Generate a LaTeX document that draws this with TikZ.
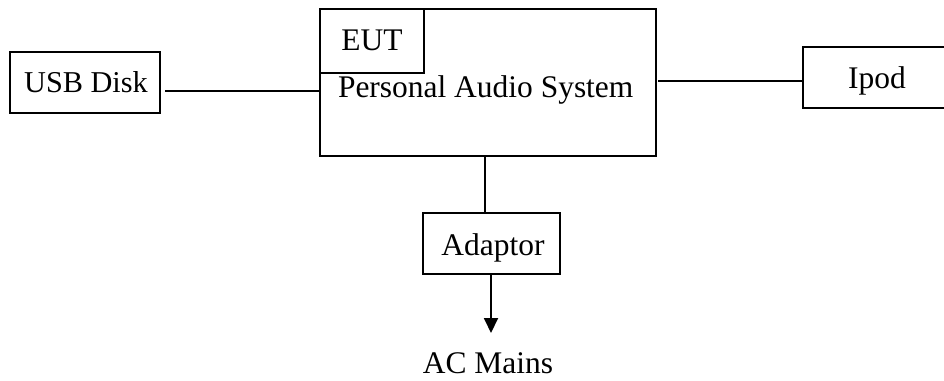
\documentclass[tikz,border=0pt]{standalone}
\usepackage{fontspec}
\setmainfont{Liberation Serif}
\usetikzlibrary{arrows.meta}
\begin{document}
\begin{tikzpicture}[x=0.75pt,y=-0.75pt,
  box/.style={draw,line width=1.4pt,inner sep=0pt,outer sep=0pt,rectangle},
  lbl/.style={inner sep=0pt,outer sep=0pt,font=\fontsize{23.6pt}{28pt}\selectfont},
  conn/.style={line width=1.4pt}]
\useasboundingbox (0,0) rectangle (944,380);
\clip (0,0) rectangle (944,380);
\fill[white] (0,0) rectangle (944,380);
% boxes
\node[box,minimum width=150*0.75pt,minimum height=61*0.75pt,anchor=north west] (usb) at (10,52) {};
\node[box,minimum width=336*0.75pt,minimum height=147*0.75pt,anchor=north west] (pas) at (320,9) {};
\node[box,minimum width=104*0.75pt,minimum height=64*0.75pt,anchor=north west] (eut) at (320,9) {};
\node[box,minimum width=160*0.75pt,minimum height=61*0.75pt,anchor=north west] (ipod) at (803,47) {};
\node[box,minimum width=137*0.75pt,minimum height=61*0.75pt,anchor=north west] (adp) at (423,213) {};
% texts
\node[lbl,anchor=base,font=\fontsize{22.7pt}{27pt}\selectfont] (usbt) at (86,92) {USB Disk};
\node[lbl,anchor=base] (eutt) at (372,50) {EUT};
\node[lbl,anchor=base west] (past) at (338,97) {Personal Audio System};
\node[lbl,anchor=base] (ipodt) at (877,88) {Ipod};
\node[lbl,anchor=base] (adpt) at (493,255) {Adaptor};
\node[lbl,anchor=base] (ac) at (488,373) {AC Mains};
% connectors
\coordinate (usbr) at ([xshift=5*0.75pt]usb.east |- 0,91);
\draw[conn] (usbr) -- (pas.west |- usbr);
\coordinate (pasr) at ([xshift=2*0.75pt]pas.east |- 0,81);
\draw[conn] (pasr) -- (ipod.west |- pasr);
\coordinate (pasb) at (485,156);
\draw[conn] (pasb) -- (485,213);
\coordinate (tip) at (491,333);
\draw[conn,-{Triangle[length=15*0.75pt,width=14*0.75pt]}] (adp.south -| tip) -- (tip);
\end{tikzpicture}
\end{document}
